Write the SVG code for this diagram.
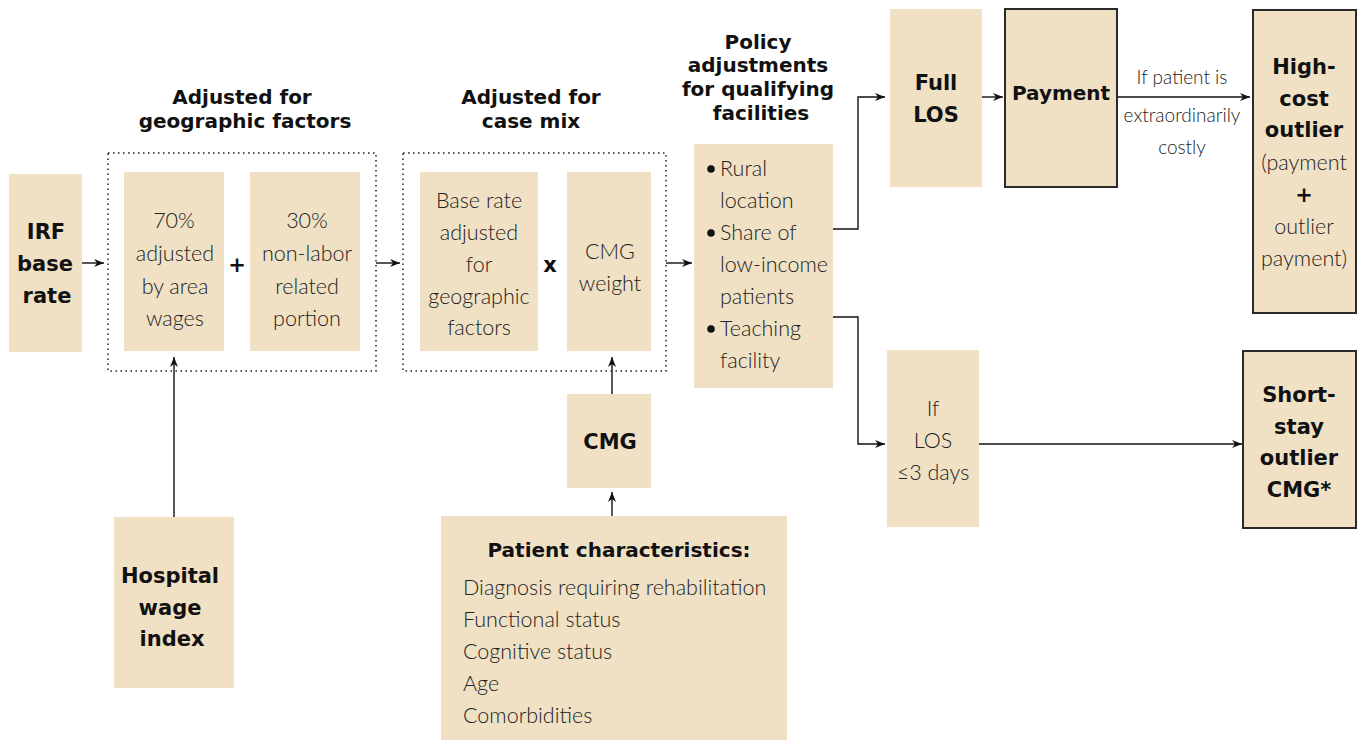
<svg xmlns="http://www.w3.org/2000/svg" width="1358" height="740" viewBox="0 0 1358 740">
<defs>
<style>
.box{fill:#F0E1C5}
.sbox{fill:#F0E1C5;stroke:#2a2a2a;stroke-width:2}
.dot{fill:none;stroke:#222;stroke-width:1.5;stroke-dasharray:1.5 3.5}
.t{font-family:Lato,"Liberation Sans",sans-serif;font-weight:300;font-size:21.5px;fill:#222;text-anchor:middle}
.tl{font-family:Lato,"Liberation Sans",sans-serif;font-weight:300;font-size:21.5px;fill:#222}
.lbl{font-family:Lato,"Liberation Sans",sans-serif;font-weight:300;font-size:19px;fill:#222;text-anchor:middle}
.b{font-family:"DejaVu Sans",sans-serif;font-weight:bold;font-size:21px;fill:#111;text-anchor:middle}
.h{font-family:"DejaVu Sans",sans-serif;font-weight:bold;font-size:20px;fill:#111;text-anchor:middle}
.c{fill:none;stroke:#111;stroke-width:1.4}
</style>
<marker id="ah" viewBox="0 0 10 8" refX="10" refY="4" markerWidth="10" markerHeight="8" markerUnits="userSpaceOnUse" orient="auto">
<path d="M0,0 L10,4 L0,8 L3,4 z" fill="#111"/>
</marker>
</defs>
<rect width="1358" height="740" fill="#fff"/>

<g id="headers">
<text class="h" x="242" y="104">Adjusted for</text>
<text class="h" x="245" y="128">geographic factors</text>
<text class="h" x="531" y="104">Adjusted for</text>
<text class="h" x="531" y="128">case mix</text>
<text class="h" x="758" y="49">Policy</text>
<text class="h" x="758" y="72">adjustments</text>
<text class="h" x="758" y="96">for qualifying</text>
<text class="h" x="761" y="120">facilities</text>
</g>

<g id="connectors">
<line class="c" x1="82" y1="263" x2="104" y2="263" marker-end="url(#ah)"/>
<line class="c" x1="376" y1="263" x2="400" y2="263" marker-end="url(#ah)"/>
<line class="c" x1="666" y1="263" x2="692" y2="263" marker-end="url(#ah)"/>
<polyline class="c" points="833,229 858,229 858,97 885,97" marker-end="url(#ah)"/>
<line class="c" x1="982" y1="97" x2="1003" y2="97" marker-end="url(#ah)"/>
<line class="c" x1="1117" y1="97" x2="1250" y2="97" marker-end="url(#ah)"/>
<polyline class="c" points="833,317 858,317 858,444 885,444" marker-end="url(#ah)"/>
<line class="c" x1="979" y1="444" x2="1242" y2="444" marker-end="url(#ah)"/>
<line class="c" x1="174" y1="517" x2="174" y2="357" marker-end="url(#ah)"/>
<line class="c" x1="612" y1="394" x2="612" y2="357" marker-end="url(#ah)"/>
<line class="c" x1="612" y1="516" x2="612" y2="492" marker-end="url(#ah)"/>
<text class="lbl" x="1182" y="84">If patient is</text>
<text class="lbl" x="1182" y="122">extraordinarily</text>
<text class="lbl" x="1182" y="154">costly</text>
</g>

<g id="irf">
<rect class="box" x="9" y="174" width="73" height="178"/>
<text class="b" x="46" y="239">IRF</text>
<text class="b" x="45" y="271">base</text>
<text class="b" x="47" y="303">rate</text>
</g>

<g id="geo-group">
<rect class="dot" x="108" y="153" width="268" height="218"/>
<text class="b" x="237" y="272">+</text>
</g>

<g id="area-wages">
<rect class="box" x="124" y="172" width="100" height="179"/>
<text class="t" x="174" y="228">70%</text>
<text class="t" x="175" y="261">adjusted</text>
<text class="t" x="175" y="294">by area</text>
<text class="t" x="175" y="326">wages</text>
</g>

<g id="non-labor">
<rect class="box" x="250" y="172" width="110" height="179"/>
<text class="t" x="307" y="228">30%</text>
<text class="t" x="307" y="261">non-labor</text>
<text class="t" x="307" y="294">related</text>
<text class="t" x="307" y="326">portion</text>
</g>

<g id="casemix-group">
<rect class="dot" x="403" y="153" width="263" height="218"/>
<text class="b" x="550" y="272">x</text>
</g>

<g id="base-rate-adjusted">
<rect class="box" x="420" y="172" width="118" height="179"/>
<text class="t" x="479" y="208">Base rate</text>
<text class="t" x="479" y="240">adjusted</text>
<text class="t" x="479" y="272">for</text>
<text class="t" x="479" y="304">geographic</text>
<text class="t" x="479" y="335">factors</text>
</g>

<g id="cmg-weight">
<rect class="box" x="567" y="172" width="84" height="179"/>
<text class="t" x="610" y="259">CMG</text>
<text class="t" x="610" y="291">weight</text>
</g>

<g id="policy">
<rect class="box" x="694" y="144" width="139" height="244"/>
<circle cx="711" cy="169" r="3.8" fill="#111"/>
<circle cx="711" cy="233" r="3.8" fill="#111"/>
<circle cx="711" cy="329" r="3.8" fill="#111"/>
<text class="tl" x="720" y="176">Rural</text>
<text class="tl" x="720" y="208">location</text>
<text class="tl" x="720" y="240">Share of</text>
<text class="tl" x="720" y="272">low-income</text>
<text class="tl" x="720" y="304">patients</text>
<text class="tl" x="720" y="336">Teaching</text>
<text class="tl" x="720" y="368">facility</text>
</g>

<g id="full-los">
<rect class="box" x="890" y="9" width="92" height="178"/>
<text class="b" x="936" y="90">Full</text>
<text class="b" x="936" y="122">LOS</text>
</g>

<g id="payment">
<rect class="sbox" x="1005" y="9" width="112" height="178"/>
<text class="b" x="1061" y="100" style="font-size:20px">Payment</text>
</g>

<g id="high-cost-outlier">
<rect class="sbox" x="1253" y="10" width="103" height="303"/>
<text class="b" x="1304" y="74">High-</text>
<text class="b" x="1304" y="106">cost</text>
<text class="b" x="1304" y="137">outlier</text>
<text class="t" x="1304" y="170">(payment</text>
<text class="b" x="1304" y="202">+</text>
<text class="t" x="1304" y="234">outlier</text>
<text class="t" x="1304" y="266">payment)</text>
</g>

<g id="if-los">
<rect class="box" x="887" y="350" width="92" height="177"/>
<text class="t" x="933" y="416">If</text>
<text class="t" x="933" y="448">LOS</text>
<text class="t" x="933" y="480">≤3 days</text>
</g>

<g id="short-stay">
<rect class="sbox" x="1243" y="351" width="113" height="177"/>
<text class="b" x="1299" y="402">Short-</text>
<text class="b" x="1299" y="434">stay</text>
<text class="b" x="1299" y="465">outlier</text>
<text class="b" x="1299" y="497">CMG*</text>
</g>

<g id="cmg">
<rect class="box" x="567" y="394" width="84" height="94"/>
<text class="b" x="610" y="449">CMG</text>
</g>

<g id="patient-characteristics">
<rect class="box" x="441" y="516" width="346" height="224"/>
<text class="b" x="619" y="557" style="font-size:20px">Patient characteristics:</text>
<text class="tl" x="463" y="595">Diagnosis requiring rehabilitation</text>
<text class="tl" x="463" y="627">Functional status</text>
<text class="tl" x="463" y="659">Cognitive status</text>
<text class="tl" x="463" y="691">Age</text>
<text class="tl" x="463" y="723">Comorbidities</text>
</g>

<g id="hospital-wage-index">
<rect class="box" x="114" y="517" width="120" height="171"/>
<text class="b" x="170" y="583">Hospital</text>
<text class="b" x="170" y="615">wage</text>
<text class="b" x="172" y="646">index</text>
</g>
</svg>
